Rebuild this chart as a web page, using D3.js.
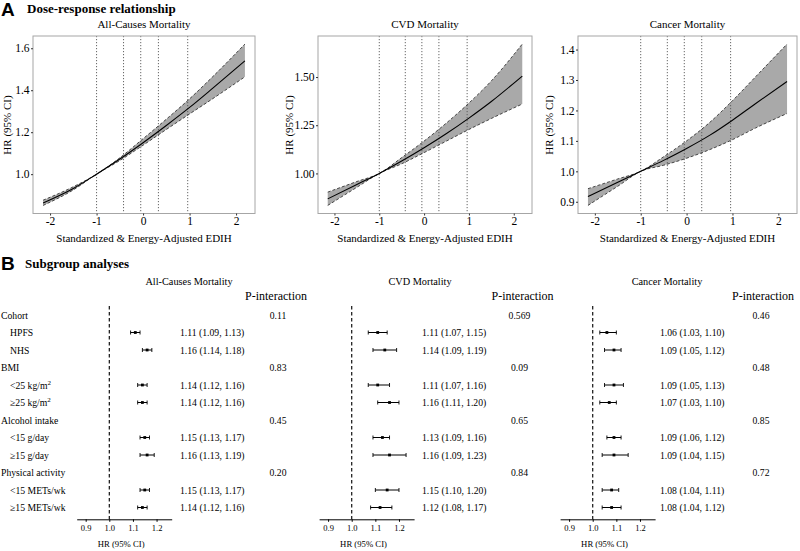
<!DOCTYPE html>
<html><head><meta charset="utf-8">
<script src="https://cdn.jsdelivr.net/npm/d3@7"></script>
<style>
body{margin:0;background:#fff}
svg{display:block}
text{font-family:"Liberation Serif","Times New Roman",serif;fill:#000}
</style>
</head><body>
<svg id="c" width="800" height="551"></svg>
<script>
// ---------------- DATA ----------------
// Dose-response (panel A): standardized EDIH values where the curves were read
const xGrid = [-2.15, -1.5, -1, -0.5, 0, 0.5, 1, 1.5, 2.19];
const allHR  = [0.863, 0.932, 1.0, 1.072, 1.150, 1.232, 1.318, 1.410, 1.540];
const allLo  = [0.851, 0.925, 1.0, 1.065, 1.138, 1.213, 1.287, 1.360, 1.464];
const allHi  = [0.876, 0.940, 1.0, 1.078, 1.169, 1.262, 1.359, 1.465, 1.620];
const cvdHR  = [0.868, 0.943, 1.0, 1.064, 1.133, 1.207, 1.287, 1.373, 1.505];
const cvdLo  = [0.834, 0.928, 1.0, 1.050, 1.108, 1.168, 1.228, 1.285, 1.360];
const cvdHi  = [0.903, 0.958, 1.0, 1.082, 1.168, 1.262, 1.365, 1.480, 1.671];
const canHR  = [0.917, 0.964, 1.0, 1.036, 1.075, 1.118, 1.168, 1.222, 1.295];
const canLo  = [0.888, 0.951, 1.0, 1.020, 1.043, 1.071, 1.104, 1.142, 1.190];
const canHi  = [0.943, 0.975, 1.0, 1.048, 1.100, 1.160, 1.232, 1.310, 1.418];
const quintileLines = [-1.0, -0.42, -0.05, 0.33, 0.96];
const xTicksA = [-2, -1, 0, 1, 2];
const yTicksAll = [1.0, 1.2, 1.4, 1.6];
const yTicksCVD = [1.00, 1.25, 1.50];
const yTicksCan = [0.9, 1.0, 1.1, 1.2, 1.3, 1.4];
const outcomeTitles = ["All-Causes Mortality", "CVD Mortality", "Cancer Mortality"];

// Subgroup analyses (panel B)
const rowLabels = ["Cohort", "HPFS", "NHS", "BMI", "<25 kg/m2", "\u226525 kg/m2",
  "Alcohol intake", "<15 g/day", "\u226515 g/day", "Physical activity", "<15 METs/wk", "\u226515 METs/wk"];
const rowIsHeader = [1,0,0,1,0,0,1,0,0,1,0,0];
const allSubHR = [1.11, 1.16, 1.14, 1.14, 1.15, 1.16, 1.15, 1.14];
const allSubLo = [1.09, 1.14, 1.12, 1.12, 1.13, 1.13, 1.13, 1.12];
const allSubHi = [1.13, 1.18, 1.16, 1.16, 1.17, 1.19, 1.17, 1.16];
const cvdSubHR = [1.11, 1.14, 1.11, 1.16, 1.13, 1.16, 1.15, 1.12];
const cvdSubLo = [1.07, 1.09, 1.07, 1.11, 1.09, 1.09, 1.10, 1.08];
const cvdSubHi = [1.15, 1.19, 1.16, 1.20, 1.16, 1.23, 1.20, 1.17];
const canSubHR = [1.06, 1.09, 1.09, 1.07, 1.09, 1.09, 1.08, 1.08];
const canSubLo = [1.03, 1.05, 1.05, 1.03, 1.06, 1.04, 1.04, 1.04];
const canSubHi = [1.10, 1.12, 1.13, 1.10, 1.12, 1.15, 1.11, 1.12];
const allP = ["0.11", "0.83", "0.45", "0.20"];
const cvdP = ["0.569", "0.09", "0.65", "0.84"];
const canP = ["0.46", "0.48", "0.85", "0.72"];
const forestTicks = [0.9, 1.0, 1.1, 1.2];

// ---------------- DRAW ----------------
const svg = d3.select("#c");

svg.append("text").attr("x", 1).attr("y", 16).style("font-family", "'Liberation Sans',Arial,sans-serif")
  .style("font-weight", "bold").style("font-size", "19px").text("A");
svg.append("text").attr("x", 27).attr("y", 13).style("font-weight", "bold").style("font-size", "13px")
  .text("Dose-response relationship");
svg.append("text").attr("x", 1).attr("y", 270).style("font-family", "'Liberation Sans',Arial,sans-serif")
  .style("font-weight", "bold").style("font-size", "19px").text("B");
svg.append("text").attr("x", 25).attr("y", 268).style("font-weight", "bold").style("font-size", "13px")
  .text("Subgroup analyses");

const topPanels = [
  {left: 33, right: 255, hr: allHR, lo: allLo, hi: allHi, yt: yTicksAll, fmt: d3.format(".1f"), ytx: 7},
  {left: 318, right: 532, hr: cvdHR, lo: cvdLo, hi: cvdHi, yt: yTicksCVD, fmt: d3.format(".2f"), ytx: 288.5},
  {left: 578, right: 797, hr: canHR, lo: canLo, hi: canHi, yt: yTicksCan, fmt: d3.format(".1f"), ytx: 548.5}
];
const plotTop = 36, plotBottom = 213.5;

topPanels.forEach((p, i) => {
  const g = svg.append("g");
  const xr = d3.extent(xGrid), xe = (xr[1] - xr[0]) * 0.05;
  const x = d3.scaleLinear().domain([xr[0] - xe, xr[1] + xe]).range([p.left, p.right]);
  const ymin = d3.min(p.lo), ymax = d3.max(p.hi), ye = (ymax - ymin) * 0.05;
  const y = d3.scaleLinear().domain([ymin - ye, ymax + ye]).range([plotBottom, plotTop]);
  const pts = xGrid.map((v, k) => ({x: v, hr: p.hr[k], lo: p.lo[k], hi: p.hi[k]}));

  g.append("path").datum(pts)
    .attr("d", d3.area().x(d => x(d.x)).y0(d => y(d.lo)).y1(d => y(d.hi)).curve(d3.curveMonotoneX))
    .attr("fill", "#a9a9a9");
  g.selectAll(".q").data(quintileLines).enter().append("line")
    .attr("x1", d => x(d)).attr("x2", d => x(d)).attr("y1", plotTop).attr("y2", plotBottom)
    .attr("stroke", "#555").attr("stroke-width", 0.9).attr("stroke-dasharray", "1.2,1.8");
  ["lo", "hi"].forEach(k => {
    g.append("path").datum(pts)
      .attr("d", d3.line().x(d => x(d.x)).y(d => y(d[k])).curve(d3.curveMonotoneX))
      .attr("fill", "none").attr("stroke", "#222").attr("stroke-width", 0.8).attr("stroke-dasharray", "3,2");
  });
  g.append("path").datum(pts)
    .attr("d", d3.line().x(d => x(d.x)).y(d => y(d.hr)).curve(d3.curveMonotoneX))
    .attr("fill", "none").attr("stroke", "#000").attr("stroke-width", 1.1);
  g.append("rect").attr("x", p.left).attr("y", plotTop).attr("width", p.right - p.left).attr("height", plotBottom - plotTop)
    .attr("fill", "none").attr("stroke", "#a6a6a6").attr("stroke-width", 1);

  const ya = g.append("g").attr("transform", `translate(${p.left},0)`)
    .call(d3.axisLeft(y).tickValues(p.yt).tickFormat(p.fmt).tickSize(2).tickPadding(1.5));
  ya.select(".domain").remove();
  ya.selectAll("line").attr("stroke", "#333");
  ya.selectAll("text").style("font-family", "'Liberation Serif',serif").style("font-size", "11.5px").attr("fill", "#222");
  const xa = g.append("g").attr("transform", `translate(0,${plotBottom})`)
    .call(d3.axisBottom(x).tickValues(xTicksA).tickFormat(d => d < 0 ? "-" + Math.abs(d) : d).tickSize(2).tickPadding(1.5));
  xa.select(".domain").remove();
  xa.selectAll("line").attr("stroke", "#333");
  xa.selectAll("text").style("font-family", "'Liberation Serif',serif").style("font-size", "11.5px").attr("fill", "#222");

  g.append("text").attr("x", (p.left + p.right) / 2).attr("y", 28).attr("text-anchor", "middle")
    .style("font-size", "11px").text(outcomeTitles[i]);
  g.append("text").attr("x", (p.left + p.right) / 2).attr("y", 242).attr("text-anchor", "middle")
    .style("font-size", "11px").text("Standardized & Energy-Adjusted EDIH");
  g.append("text").attr("transform", `translate(${p.ytx + 4},125) rotate(-90)`).attr("text-anchor", "middle")
    .style("font-size", "11px").text("HR (95% CI)");
});

// ---------------- Forest plots ----------------
const rowY = d3.scaleLinear().domain([0, 11]).range([315, 507.5]);
const subRows = [1, 2, 4, 5, 7, 8, 10, 11];
const headRows = [0, 3, 6, 9];
const forests = [
  {off: 0, hr: allSubHR, lo: allSubLo, hi: allSubHi, p: allP, txt: 180, pc: 278, hc: 276, tc: 189},
  {off: 242.4, hr: cvdSubHR, lo: cvdSubLo, hi: cvdSubHi, p: cvdP, txt: 422, pc: 519.5, hc: 522.5, tc: 420},
  {off: 483.4, hr: canSubHR, lo: canSubLo, hi: canSubHi, p: canP, txt: 660, pc: 761, hc: 763, tc: 667}
];

svg.selectAll(".rl").data(rowLabels).enter().append("text")
  .attr("x", (d, i) => rowIsHeader[i] ? 1 : 10)
  .attr("y", (d, i) => rowY(i) + 3.5)
  .style("font-size", "9.7px")
  .each(function(d) {
    const t = d3.select(this);
    if (d.endsWith("kg/m2")) {
      t.text(d.slice(0, -1));
      t.append("tspan").attr("dy", -4).style("font-size", "7px").text("2");
    } else t.text(d);
  });

forests.forEach((f, fi) => {
  const g = svg.append("g");
  const x = d3.scaleLinear().domain([0.862, 1.264]).range([76.7 + f.off, 171.7 + f.off]);
  g.append("text").attr("x", f.tc).attr("y", 284.5).attr("text-anchor", "middle").style("font-size", "10.3px")
    .text(outcomeTitles[fi]);
  g.append("text").attr("x", f.hc).attr("y", 299.5).attr("text-anchor", "middle").style("font-size", "12px")
    .text("P-interaction");
  g.append("line").attr("x1", x(1)).attr("x2", x(1)).attr("y1", 306).attr("y2", 519.3)
    .attr("stroke", "#111").attr("stroke-width", 1.2).attr("stroke-dasharray", "3.5,2.5");
  const xa = g.append("g").attr("transform", "translate(0,519.3)")
    .call(d3.axisBottom(x).tickValues(forestTicks).tickFormat(d3.format(".1f")).tickSize(2.5).tickPadding(3).tickSizeOuter(0));
  xa.select(".domain").attr("stroke", "#000").attr("stroke-width", 1);
  xa.selectAll("line").attr("stroke", "#000");
  xa.selectAll("text").style("font-family", "'Liberation Serif',serif").style("font-size", "8.5px").attr("fill", "#000");
  g.append("text").attr("x", x(1.05)).attr("y", 547).attr("text-anchor", "middle").style("font-size", "8.7px")
    .text("HR (95% CI)");

  const data = subRows.map((r, k) => ({r, hr: f.hr[k], lo: f.lo[k], hi: f.hi[k]}));
  const eb = g.selectAll(".eb").data(data).enter().append("g");
  eb.append("line").attr("x1", d => x(d.lo)).attr("x2", d => x(d.hi))
    .attr("y1", d => rowY(d.r)).attr("y2", d => rowY(d.r)).attr("stroke", "#000").attr("stroke-width", 1);
  eb.append("line").attr("x1", d => x(d.lo)).attr("x2", d => x(d.lo))
    .attr("y1", d => rowY(d.r) - 2).attr("y2", d => rowY(d.r) + 2).attr("stroke", "#000").attr("stroke-width", 0.9);
  eb.append("line").attr("x1", d => x(d.hi)).attr("x2", d => x(d.hi))
    .attr("y1", d => rowY(d.r) - 2).attr("y2", d => rowY(d.r) + 2).attr("stroke", "#000").attr("stroke-width", 0.9);
  eb.append("rect").attr("x", d => x(d.hr) - 1.4).attr("y", d => rowY(d.r) - 1.4).attr("width", 2.8).attr("height", 2.8)
    .attr("fill", "#000");
  eb.append("text").attr("x", f.txt).attr("y", d => rowY(d.r) + 3.5).style("font-size", "9.7px")
    .text(d => `${d.hr.toFixed(2)} (${d.lo.toFixed(2)}, ${d.hi.toFixed(2)})`);

  g.selectAll(".pv").data(f.p).enter().append("text")
    .attr("x", f.pc).attr("y", (d, k) => rowY(headRows[k]) + 3.5).attr("text-anchor", "middle")
    .style("font-size", "9.7px").text(d => d);
});
</script>
</body></html>
